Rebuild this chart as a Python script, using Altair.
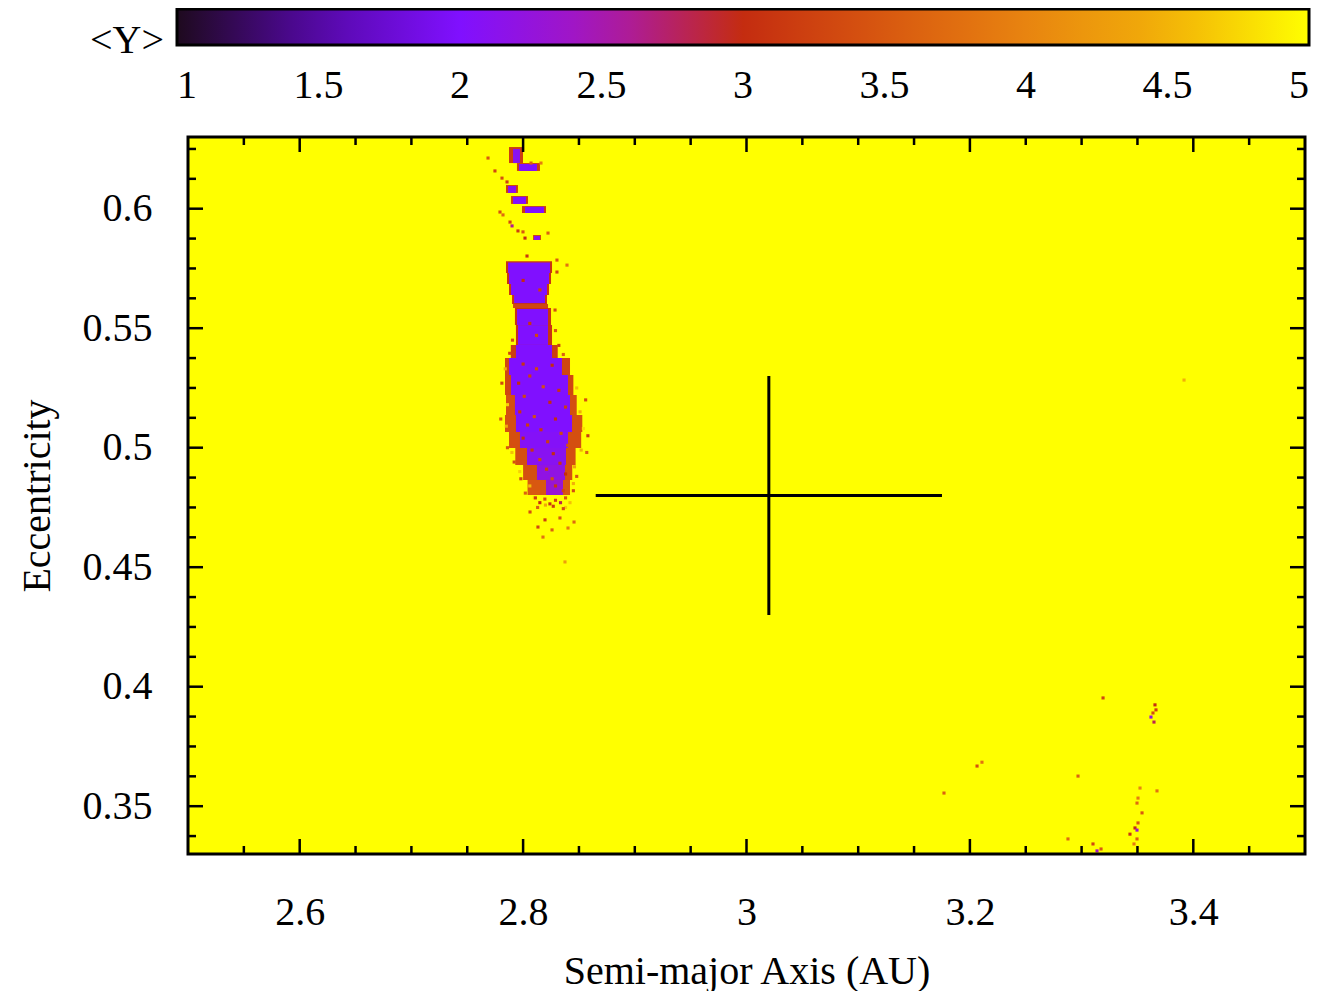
import altair as alt
import pandas as pd

FONT = "Liberation Serif"

# ---- axis tick positions ----
x_major = [2.6, 2.8, 3.0, 3.2, 3.4]
x_minor = [2.55, 2.65, 2.7, 2.75, 2.85, 2.9, 2.95, 3.05, 3.1, 3.15, 3.25, 3.3, 3.35, 3.45]
y_major = [0.35, 0.4, 0.45, 0.5, 0.55, 0.6]
y_minor = [0.3375, 0.3625, 0.375, 0.3875, 0.4125, 0.425, 0.4375, 0.4625, 0.475, 0.4875,
           0.5125, 0.525, 0.5375, 0.5625, 0.575, 0.5875, 0.6125, 0.625]
cbar_ticks = [1, 1.5, 2, 2.5, 3, 3.5, 4, 4.5, 5]

# ---- colour palette (<Y> value -> colour) ----
pal_values = [1, 1.5, 2, 2.5, 3, 3.5, 4, 4.5, 5]
pal_colors = ["#1e0a1e", "#5508a8", "#8010ff", "#a818b8", "#c42c10",
              "#d85810", "#e88410", "#f2b008", "#ffff00"]

# ---- map: background level ----
bg_a0, bg_a1, bg_e0, bg_e1, bg_Y = [2.5], [3.5], [0.33], [0.63], [5.0]

# ---- map: chaotic region patches (fringe rows first, then core rows) ----
patch_a0 = [2.7874, 2.7945, 2.7847, 2.7892, 2.7990, 2.8089,
            2.7847, 2.7856, 2.7874, 2.7901, 2.7910, 2.7927, 2.7936, 2.7890,
            2.7838, 2.7838, 2.7847, 2.7838, 2.7874, 2.7930, 2.8000, 2.8040,
            2.7910, 2.7963, 2.7865, 2.7910, 2.8017, 2.8098,
            2.7865, 2.7874, 2.7892, 2.7919, 2.7945, 2.7954, 2.7936,
            2.7874, 2.7892, 2.7927, 2.7936, 2.7972, 2.8035, 2.8124, 2.8205]
patch_a1 = [2.7999, 2.8151, 2.7954, 2.8044, 2.8205, 2.8160,
            2.8259, 2.8250, 2.8232, 2.8214, 2.8223, 2.8250, 2.8259, 2.8310,
            2.8420, 2.8450, 2.8480, 2.8530, 2.8520, 2.8470, 2.8440, 2.8420,
            2.7972, 2.8124, 2.7937, 2.8026, 2.8187, 2.8151,
            2.8241, 2.8232, 2.8214, 2.8196, 2.8223, 2.8223, 2.8259,
            2.8348, 2.8402, 2.8420, 2.8438, 2.8402, 2.8384, 2.8375, 2.8357]
patch_e0 = [0.6191, 0.6158, 0.6066, 0.6020, 0.5982, 0.5869,
            0.5731, 0.5685, 0.5639, 0.5601, 0.5585, 0.5513, 0.5430, 0.5375,
            0.5304, 0.5221, 0.5137, 0.5066, 0.4999, 0.4928, 0.4865, 0.4802,
            0.6191, 0.6158, 0.6066, 0.6020, 0.5982, 0.5869,
            0.5731, 0.5685, 0.5639, 0.5605, 0.5513, 0.5430, 0.5375,
            0.5304, 0.5221, 0.5137, 0.5066, 0.4999, 0.4928, 0.4865, 0.4802]
patch_e1 = [0.6258, 0.6191, 0.6099, 0.6053, 0.6011, 0.5890,
            0.5780, 0.5731, 0.5685, 0.5639, 0.5601, 0.5585, 0.5513, 0.5430,
            0.5375, 0.5304, 0.5221, 0.5137, 0.5066, 0.4999, 0.4928, 0.4865,
            0.6250, 0.6187, 0.6095, 0.6050, 0.6008, 0.5886,
            0.5775, 0.5731, 0.5685, 0.5639, 0.5580, 0.5513, 0.5430,
            0.5375, 0.5304, 0.5221, 0.5137, 0.5066, 0.4999, 0.4928, 0.4865]
patch_Y = [3.2, 3.2, 3.2, 3.2, 3.2, 3.3,
           3.1, 3.1, 3.1, 3.1, 3.3, 3.1, 3.1, 3.2,
           3.3, 3.3, 3.4, 3.4, 3.4, 3.4, 3.4, 3.5,
           2.1, 2.0, 2.1, 2.0, 2.0, 2.1,
           2.0, 2.0, 2.0, 2.0, 2.0, 2.0, 2.0,
           2.0, 2.0, 2.0, 2.0, 2.05, 2.1, 2.2, 2.3]

# ---- map: single grid cells (speckles and isolated points) ----
cell_a = [2.800, 2.812, 2.826, 2.806, 2.796, 2.818, 2.832, 2.801, 2.824, 2.838,
          2.797, 2.810, 2.829, 2.804, 2.816, 2.834, 2.800, 2.822, 2.840, 2.808,
          2.827, 2.815, 2.833, 2.821, 2.838, 2.826, 2.829, 2.836,
          2.784, 2.786, 2.785, 2.848, 2.851, 2.854, 2.790, 2.852, 2.797, 2.846,
          2.806, 2.845, 2.810, 2.842, 2.820, 2.838,
          2.781, 2.780, 2.856, 2.858, 2.857, 2.786, 2.792, 2.798, 2.848, 2.802,
          2.845, 2.832, 2.829, 2.7905, 2.788, 2.836,
          2.800, 2.815, 2.806, 2.812,
          2.8110, 2.8150, 2.8195, 2.8240, 2.8290, 2.8335, 2.8380, 2.8130, 2.8270, 2.8360,
          2.7686, 2.7748, 2.7811, 2.7856, 2.8071, 2.8160, 2.7793, 2.7820, 2.7883, 2.7901,
          2.7954, 2.7999, 2.8017, 2.8223, 2.8035, 2.8303, 2.8393, 2.8303, 2.8286,
          2.8062, 2.8196, 2.8330, 2.8133, 2.8259, 2.8402, 2.8178, 2.8375, 2.8456,
          3.3192, 3.3657, 3.3666, 3.3639, 3.3621, 3.3648, 3.2064, 3.2108, 3.2968,
          3.3523, 3.3675, 3.3505, 3.3496, 3.3541, 3.3505, 3.3478, 3.3496, 3.3433,
          3.3496, 3.3469, 3.2878, 3.3102, 3.3174, 3.3138, 3.1768, 3.3917]
cell_e = [0.5350, 0.5330, 0.5345, 0.5300, 0.5270, 0.5255, 0.5240, 0.5215, 0.5190, 0.5170,
          0.5150, 0.5130, 0.5120, 0.5095, 0.5075, 0.5060, 0.5040, 0.5025, 0.5010, 0.4990,
          0.4975, 0.4950, 0.4935, 0.4910, 0.4890, 0.4870, 0.4840, 0.4820,
          0.5330, 0.5180, 0.5090, 0.5250, 0.5150, 0.5080, 0.4980, 0.4990, 0.4900, 0.4920,
          0.4840, 0.4850, 0.4790, 0.4770, 0.4760, 0.4750,
          0.5270, 0.5120, 0.5200, 0.5050, 0.4980, 0.5000, 0.4940, 0.4870, 0.4880, 0.4810,
          0.4820, 0.5428, 0.5490, 0.5450, 0.5395, 0.5390,
          0.5700, 0.5660, 0.5520, 0.5470,
          0.4790, 0.4770, 0.4785, 0.4765, 0.4780, 0.4770, 0.4790, 0.4750, 0.4755, 0.4745,
          0.6212, 0.6158, 0.6128, 0.6112, 0.6191, 0.6191, 0.5986, 0.5974, 0.5944, 0.5928,
          0.5907, 0.5903, 0.5877, 0.5898, 0.5802, 0.5785, 0.5764, 0.5735, 0.5576,
          0.4731, 0.4698, 0.4706, 0.4668, 0.4656, 0.4664, 0.4626, 0.4522, 0.4689,
          0.3953, 0.3924, 0.3903, 0.3890, 0.3873, 0.3852, 0.3668, 0.3684, 0.3626,
          0.3576, 0.3564, 0.3534, 0.3513, 0.3472, 0.3430, 0.3409, 0.3400, 0.3383,
          0.3363, 0.3342, 0.3363, 0.3342, 0.3321, 0.3313, 0.3555, 0.5283]
cell_Y = [3.1, 3.3, 3.0, 3.2, 3.0, 3.4, 3.1, 3.3, 3.0, 3.2,
          3.1, 3.4, 3.0, 3.2, 3.1, 3.3, 3.0, 3.2, 3.4, 3.1,
          3.0, 3.3, 3.1, 3.2, 3.0, 3.4, 3.1, 3.3,
          4.5, 4.7, 4.4, 4.6, 4.5, 4.8, 4.6, 4.5, 4.7, 4.4,
          4.6, 4.5, 4.8, 4.6, 4.4, 4.7,
          3.3, 3.5, 3.4, 3.2, 3.6, 3.5, 3.4, 3.3, 3.5, 3.6,
          3.4, 3.2, 3.5, 3.4, 3.3, 3.6,
          3.0, 3.2, 3.1, 3.3,
          3.2, 3.0, 3.4, 3.1, 3.3, 2.8, 3.5, 3.6, 3.2, 3.4,
          3.5, 3.3, 3.4, 3.2, 3.6, 3.9, 3.4, 3.7, 3.3, 2.6,
          3.2, 3.5, 3.0, 3.6, 3.1, 3.5, 3.8, 3.3, 3.4,
          3.4, 3.2, 3.5, 3.3, 3.6, 3.9, 3.8, 4.3, 3.7,
          3.3, 3.0, 3.2, 3.4, 2.2, 2.8, 3.4, 3.8, 3.6,
          4.0, 3.8, 3.9, 3.7, 3.5, 3.5, 3.0, 2.3, 3.1,
          3.6, 3.9, 3.7, 3.3, 3.5, 2.4, 3.6, 4.5]

# ---- nominal orbit with uncertainties ----
orbit_a, orbit_da = [3.02], [0.155]
orbit_e, orbit_de = [0.48], [0.05]

W, H = 1117, 717
MAJ, MIN = 15, 8

xs = alt.Scale(domain=[2.5, 3.5], nice=False, zero=False)
ys = alt.Scale(domain=[0.33, 0.63], nice=False, zero=False)
cs = alt.Scale(domain=pal_values, range=pal_colors, type="linear", clamp=True,
               interpolate="rgb")

legend = alt.Legend(
    title="<Y>", orient="none", direction="horizontal", legendX=-98, legendY=-128,
    gradientLength=1132, gradientThickness=36, gradientStrokeColor="black",
    gradientStrokeWidth=3, values=cbar_ticks, format="~g", labelAlign="center",
    labelFont=FONT, labelFontSize=40, labelOffset=21, labelColor="black",
    titleFont=FONT, titleFontSize=40, titleFontWeight="normal", titleColor="black",
    titleOrient="left", titleAnchor="start", titleBaseline="line-top",
    titleLineHeight=64, titlePadding=12, padding=0,
)

xaxis = alt.Axis(values=x_major, format="~g", tickSize=0, domain=False, grid=False,
                 labelFont=FONT, labelFontSize=40, labelPadding=38, labelColor="black",
                 title="Semi-major Axis (AU)", titleFont=FONT, titleFontSize=40,
                 titleFontWeight="normal", titleColor="black", titlePadding=19)
yaxis = alt.Axis(values=y_major, format="~g", tickSize=0, domain=False, grid=False,
                 labelFont=FONT, labelFontSize=40, labelPadding=36, labelColor="black",
                 title="Eccentricity", titleFont=FONT, titleFontSize=40,
                 titleFontWeight="normal", titleColor="black", titlePadding=25)

bg = pd.DataFrame({"a0": bg_a0, "a1": bg_a1, "e0": bg_e0, "e1": bg_e1, "Y": bg_Y})
patches = pd.DataFrame({"a0": patch_a0, "a1": patch_a1, "e0": patch_e0,
                        "e1": patch_e1, "Y": patch_Y})
cells = pd.DataFrame({"a": cell_a, "e": cell_e, "Y": cell_Y})

col = alt.Color("Y:Q", scale=cs, legend=legend)

bg_layer = alt.Chart(bg).mark_rect(strokeWidth=0).encode(
    x=alt.X("a0:Q", scale=xs, axis=xaxis), x2="a1:Q",
    y=alt.Y("e0:Q", scale=ys, axis=yaxis), y2="e1:Q", color=col)

patch_layer = alt.Chart(patches).mark_rect(strokeWidth=0).encode(
    x="a0:Q", x2="a1:Q", y="e0:Q", y2="e1:Q", color=col)

cell_layer = alt.Chart(cells).transform_calculate(
    a0="datum.a - 0.0014", a1="datum.a + 0.0014",
    e0="datum.e - 0.00065", e1="datum.e + 0.00065",
).mark_rect(strokeWidth=0).encode(
    x="a0:Q", x2="a1:Q", y="e0:Q", y2="e1:Q", color=col)

frame = alt.Chart(bg).mark_rect(filled=False, stroke="black", strokeWidth=3).encode(
    x="a0:Q", x2="a1:Q", y="e0:Q", y2="e1:Q")

orbit = pd.DataFrame({"a": orbit_a, "da": orbit_da, "e": orbit_e, "de": orbit_de})
orbit_h = alt.Chart(orbit).transform_calculate(
    lo="datum.a - datum.da", hi="datum.a + datum.da").mark_rule(
    color="black", strokeWidth=3).encode(x="lo:Q", x2="hi:Q", y="e:Q")
orbit_v = alt.Chart(orbit).transform_calculate(
    lo="datum.e - datum.de", hi="datum.e + datum.de").mark_rule(
    color="black", strokeWidth=3).encode(x="a:Q", y="lo:Q", y2="hi:Q")

tick_style = dict(color="black", strokeWidth=2.5)


def xticks(vals, L):
    d = pd.DataFrame({"v": vals})
    bot = alt.Chart(d).mark_rule(**tick_style).encode(
        x="v:Q", y=alt.value(H), y2=alt.value(H - L))
    top = alt.Chart(d).mark_rule(**tick_style).encode(
        x="v:Q", y=alt.value(0), y2=alt.value(L))
    return [bot, top]


def yticks(vals, L):
    d = pd.DataFrame({"v": vals})
    left = alt.Chart(d).mark_rule(**tick_style).encode(
        y="v:Q", x=alt.value(0), x2=alt.value(L))
    right = alt.Chart(d).mark_rule(**tick_style).encode(
        y="v:Q", x=alt.value(W), x2=alt.value(W - L))
    return [left, right]


tick_layers = xticks(x_major, MAJ) + xticks(x_minor, MIN) + yticks(y_major, MAJ) + yticks(y_minor, MIN)

chart = alt.layer(
    bg_layer, patch_layer, cell_layer, orbit_h, orbit_v, frame, *tick_layers
).properties(
    width=W, height=H,
    autosize=alt.AutoSizeParams(type="none"),
    padding={"left": 180, "top": 129, "right": 10, "bottom": 137},
).configure_view(stroke=None).configure(background="white")

chart.save("out.html", embed_options={"renderer": "svg", "actions": False})
